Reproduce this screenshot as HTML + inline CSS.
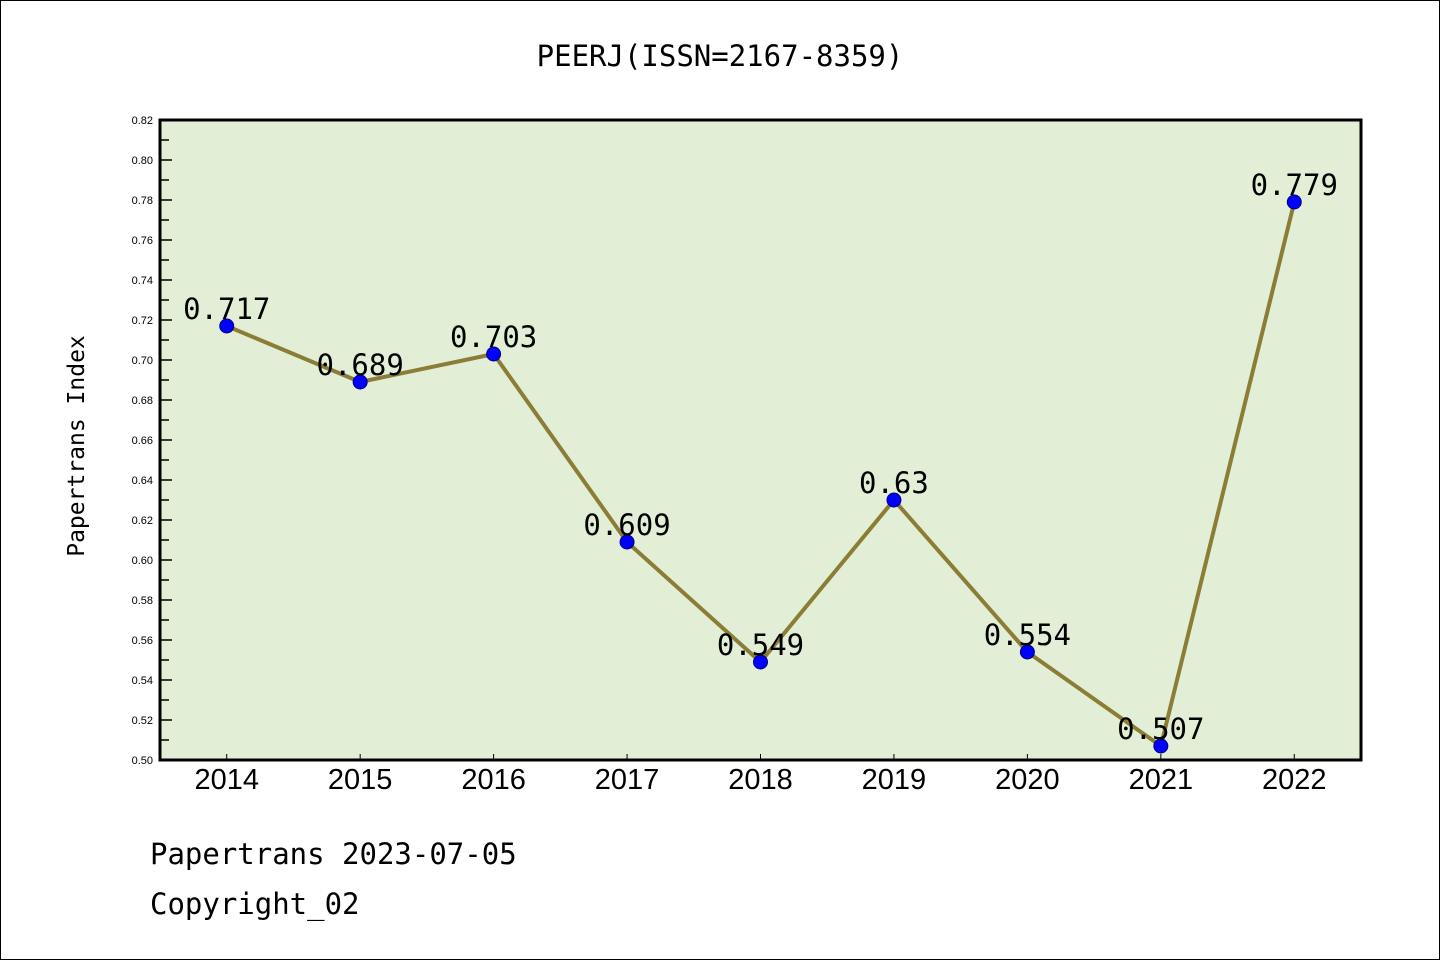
<!DOCTYPE html>
<html><head><meta charset="utf-8"><style>
body{margin:0;background:#fff;}
svg{display:block;font-family:"Liberation Sans","DejaVu Sans",sans-serif;}
</style></head><body>
<svg id="chart" width="1440" height="960" xmlns="http://www.w3.org/2000/svg">
<rect x="0.5" y="0.5" width="1439" height="959" fill="#fff" stroke="#000"/>
<text x="720" y="66" text-anchor="middle" font-size="29" font-family="DejaVu Sans Mono, monospace">PEERJ(ISSN=2167-8359)</text>
<rect x="160" y="120" width="1201" height="640" fill="#e2efd6"/>
<g id="yticks"></g>
<g id="xticks"></g>
<g id="series"></g>
<rect x="160" y="120" width="1201" height="640" fill="none" stroke="#000" stroke-width="3"/>
<text transform="translate(84,446) rotate(-90)" text-anchor="middle" font-size="23" font-family="DejaVu Sans Mono, monospace">Papertrans Index</text>
<text x="150" y="864" font-size="29" font-family="DejaVu Sans Mono, monospace">Papertrans 2023-07-05</text>
<text x="150" y="914" font-size="29" font-family="DejaVu Sans Mono, monospace">Copyright_02</text>
</svg>
<script>
const years=["2014","2015","2016","2017","2018","2019","2020","2021","2022"];
const values=[0.717,0.689,0.703,0.609,0.549,0.63,0.554,0.507,0.779];
const valueLabels=["0.717","0.689","0.703","0.609","0.549","0.63","0.554","0.507","0.779"];
const yTickLabels=["0.50","0.52","0.54","0.56","0.58","0.60","0.62","0.64","0.66","0.68","0.70","0.72","0.74","0.76","0.78","0.80","0.82"];
const NS="http://www.w3.org/2000/svg";
const X0=160,X1=1361,Y0=760,Y1=120,ymin=0.5,ymax=0.82;
function xs(i){return X0+(i+0.5)*(X1-X0)/years.length;}
function ys(v){return Y0-(v-ymin)/(ymax-ymin)*(Y0-Y1);}
function mk(tag,attrs,parent){const e=document.createElementNS(NS,tag);for(const k in attrs)e.setAttribute(k,attrs[k]);parent.appendChild(e);return e;}
const yg=document.getElementById('yticks');
yTickLabels.forEach((t,i)=>{
 const v=parseFloat(t),y=ys(v);
 const l=mk('line',{x1:X0,x2:X0+12,y1:y,y2:y,stroke:'#000','stroke-width':1.5},yg);
 
 
 const tx=mk('text',{x:X0-7,y:y+4,'text-anchor':'end','font-size':11},yg);
 tx.textContent=t;
 
 
 if(i<yTickLabels.length-1){
  const m=mk('line',{x1:X0,x2:X0+9,y1:ys(v+0.01),y2:ys(v+0.01),stroke:'#000','stroke-width':1.5},yg);
  
  
 }
});
const xg=document.getElementById('xticks');
years.forEach((yr,i)=>{
 const x=xs(i);
 const l=mk('line',{x1:x,x2:x,y1:Y0,y2:Y0-6,stroke:'#000','stroke-width':1},xg);
 
 
 const t=mk('text',{x:x,y:789,'text-anchor':'middle','font-size':29},xg);
 t.textContent=yr;
 
 
});
const sg=document.getElementById('series');
const pts=values.map((v,i)=>xs(i)+','+ys(v)).join(' ');
const pl=mk('polyline',{points:pts,fill:'none',stroke:'#8b7d35','stroke-width':4,'stroke-linejoin':'round'},sg);


values.forEach((v,i)=>{
 const c=mk('circle',{cx:xs(i),cy:ys(v),r:7,fill:'#0000ff',stroke:'#00007a','stroke-width':1},sg);
 
 
 const t=mk('text',{x:xs(i),y:ys(v)-7,'text-anchor':'middle','font-size':29,'font-family':'DejaVu Sans Mono, monospace'},sg);
 t.textContent=valueLabels[i];
 
 
});
</script>
</body></html>
